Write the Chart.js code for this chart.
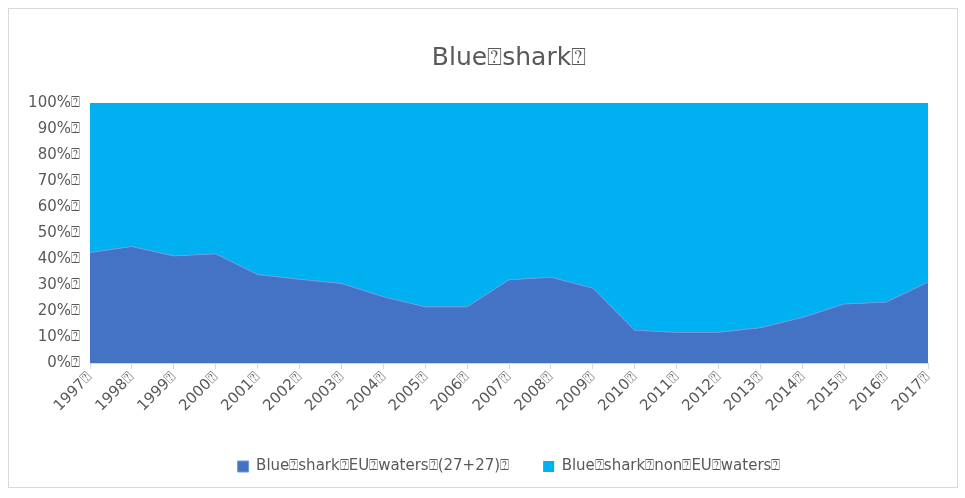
<!DOCTYPE html>
<html>
<head>
<meta charset="utf-8">
<script src="https://cdn.jsdelivr.net/npm/chart.js@4.4.1/dist/chart.umd.min.js"></script>
<style>
  html, body { margin: 0; padding: 0; background: #fff; }
  #frame { position: absolute; left: 8px; top: 8px; width: 948px; height: 478px; border: 1px solid #d9d9d9; }
  #wrap { position: absolute; left: 0; top: 0; width: 965px; height: 498px; }
</style>
</head>
<body>
<div id="frame"></div>
<div id="wrap"><canvas id="chart" width="965" height="498"></canvas></div>
<script>
// glyph the source renders in place of its odd spaces
const Q = '\u2370';

const years = ['1997', '1998', '1999', '2000', '2001', '2002', '2003', '2004', '2005', '2006', '2007',
               '2008', '2009', '2010', '2011', '2012', '2013', '2014', '2015', '2016', '2017'];

// share of catches, percent
const euWaters = [42.5, 44.8, 41.2, 42.0, 34.0, 32.2, 30.6, 25.5, 21.6, 21.6, 32.0,
                  33.0, 28.8, 12.6, 11.8, 11.8, 13.6, 17.5, 22.7, 23.4, 31.1];
const nonEuWaters = [57.5, 55.2, 58.8, 58.0, 66.0, 67.8, 69.4, 74.5, 78.4, 78.4, 68.0,
                     67.0, 71.2, 87.4, 88.2, 88.2, 86.4, 82.5, 77.3, 76.6, 68.9];

const yTicks = [0, 10, 20, 30, 40, 50, 60, 70, 80, 90, 100];

const textColor = '#595959';
const fontFamily = "'DejaVu Sans', sans-serif";

document.addEventListener('DOMContentLoaded', function() {
    const ctx = document.getElementById('chart').getContext('2d');

    new Chart(ctx, {
        type: 'line',
        data: {
            labels: years.map(y => y + Q),
            datasets: [{
                label: 'Blue' + Q + 'shark' + Q + 'EU' + Q + 'waters' + Q + '(27+27)' + Q,
                data: euWaters,
                backgroundColor: '#4472C4',
                borderColor: '#6f9be0',
                borderWidth: 1,
                fill: 'origin',
                pointRadius: 0,
                tension: 0
            }, {
                label: 'Blue' + Q + 'shark' + Q + 'non' + Q + 'EU' + Q + 'waters' + Q,
                data: nonEuWaters,
                backgroundColor: '#00B0F0',
                borderColor: '#00B0F0',
                borderWidth: 0,
                fill: '-1',
                pointRadius: 0,
                tension: 0
            }]
        },
        options: {
            responsive: false,
            animation: false,
            layout: {
                padding: { left: 18, right: 37, top: 33, bottom: 14 }
            },
            scales: {
                x: {
                    offset: false,
                    afterFit: function(scale) {
                        scale.height = 62;
                    },
                    grid: {
                        drawOnChartArea: false,
                        color: '#d9d9d9',
                        tickLength: 6
                    },
                    border: { color: '#d9d9d9' },
                    ticks: {
                        color: textColor,
                        font: { family: fontFamily, size: 15 },
                        maxRotation: 45,
                        minRotation: 45,
                        autoSkip: false,
                        padding: 0
                    }
                },
                y: {
                    stacked: true,
                    min: 0,
                    max: 100,
                    afterBuildTicks: function(scale) {
                        scale.ticks = yTicks.map(v => ({ value: v }));
                    },
                    afterFit: function(scale) {
                        scale.width = 72;
                    },
                    grid: { display: false },
                    border: { display: false },
                    ticks: {
                        color: textColor,
                        font: { family: fontFamily, size: 15 },
                        padding: 2,
                        callback: function(value) {
                            return value + '%' + Q;
                        }
                    }
                }
            },
            plugins: {
                title: {
                    display: true,
                    fullSize: false, // centre over the plot, not the canvas
                    text: 'Blue' + Q + 'shark' + Q,
                    color: textColor,
                    font: { family: fontFamily, size: 25, weight: 'normal' },
                    padding: { top: 10, bottom: 30 }
                },
                legend: {
                    position: 'bottom',
                    fullSize: false,
                    labels: {
                        color: textColor,
                        font: { family: fontFamily, size: 15 },
                        boxWidth: 11,
                        boxHeight: 11,
                        padding: 34
                    }
                },
                tooltip: { enabled: false }
            }
        }
    });
});
</script>
</body>
</html>
